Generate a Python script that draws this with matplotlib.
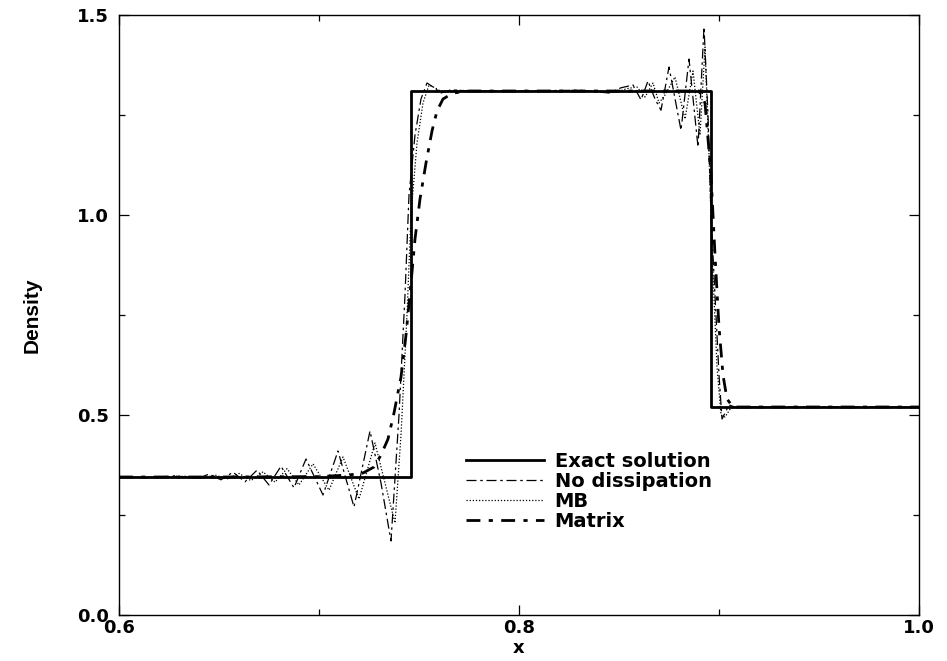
import matplotlib
matplotlib.use('Agg')
import matplotlib.pyplot as plt
from matplotlib.ticker import MultipleLocator

# exact solution (piecewise constant)
exact_x = [0.600, 0.746, 0.746, 0.896, 0.896, 1.000]
exact_y = [0.345, 0.345, 1.310, 1.310, 0.520, 0.520]

# no dissipation
nodis_x = [0.600, 0.615, 0.628, 0.639, 0.645, 0.651, 0.657, 0.663, 0.669, 0.675,
           0.681, 0.6875, 0.6935, 0.702, 0.7095, 0.7175, 0.7255, 0.731, 0.736,
           0.740, 0.743, 0.745, 0.748, 0.751, 0.754, 0.757, 0.761, 0.766, 0.775,
           0.800, 0.830, 0.845, 0.851, 0.857, 0.861, 0.8645, 0.868, 0.871, 0.875,
           0.881, 0.885, 0.8895, 0.8925, 0.8945, 0.896, 0.898, 0.900, 0.9015,
           0.903, 0.905, 0.908, 1.000]
nodis_y = [0.345, 0.343, 0.348, 0.341, 0.352, 0.338, 0.357, 0.333, 0.362, 0.325,
           0.372, 0.318, 0.390, 0.300, 0.410, 0.270, 0.460, 0.330, 0.185,
           0.500, 0.800, 1.050, 1.200, 1.290, 1.330, 1.320, 1.305, 1.313, 1.310,
           1.310, 1.312, 1.305, 1.318, 1.325, 1.288, 1.335, 1.290, 1.262, 1.370,
           1.212, 1.390, 1.170, 1.470, 1.250, 1.000, 0.800, 0.600, 0.490,
           0.505, 0.525, 0.520, 0.520]

# MB dissipation
mb_x = [0.600, 0.620, 0.633, 0.642, 0.648, 0.654, 0.660, 0.666, 0.672, 0.678,
        0.684, 0.690, 0.697, 0.705, 0.712, 0.720, 0.728, 0.733, 0.738,
        0.741, 0.744, 0.746, 0.749, 0.752, 0.755, 0.758, 0.762, 0.768, 0.780,
        0.800, 0.835, 0.848, 0.854, 0.859, 0.863, 0.867, 0.870, 0.873, 0.878,
        0.883, 0.887, 0.8905, 0.893, 0.895, 0.897, 0.899, 0.901, 0.903, 0.906,
        0.910, 1.000]
mb_y = [0.345, 0.344, 0.347, 0.342, 0.350, 0.340, 0.354, 0.336, 0.358, 0.332,
        0.366, 0.325, 0.378, 0.312, 0.395, 0.290, 0.430, 0.330, 0.230,
        0.450, 0.750, 1.000, 1.180, 1.280, 1.325, 1.318, 1.306, 1.312, 1.310,
        1.310, 1.311, 1.306, 1.316, 1.320, 1.295, 1.330, 1.280, 1.300, 1.345,
        1.240, 1.360, 1.200, 1.420, 1.150, 0.850, 0.620, 0.500, 0.495, 0.518,
        0.520, 0.520]

# matrix dissipation
mat_x = [0.600, 0.650, 0.700, 0.715, 0.722, 0.7275, 0.731, 0.7345, 0.7375, 0.741,
         0.7435, 0.746, 0.748, 0.7505, 0.7535, 0.7565, 0.759, 0.762, 0.767, 0.775,
         0.800, 0.850, 0.890, 0.893, 0.896, 0.898, 0.900, 0.902, 0.904, 0.907,
         1.000]
mat_y = [0.345, 0.345, 0.346, 0.350, 0.355, 0.370, 0.400, 0.440, 0.505, 0.595,
         0.700, 0.830, 0.940, 1.040, 1.130, 1.210, 1.260, 1.290, 1.305, 1.310,
         1.310, 1.310, 1.310, 1.280, 1.100, 0.900, 0.720, 0.600, 0.540, 0.520,
         0.520]

plt.rcParams['font.family'] = ['DejaVu Sans']

fig = plt.figure(figsize=(9.47, 6.61), dpi=100)
ax = fig.add_axes([119 / 947, 46 / 661, 800 / 947, 600 / 661])

ax.plot(exact_x, exact_y, color='black', lw=2.0, label='Exact solution')
ax.plot(nodis_x, nodis_y, color='black', lw=0.9, ls=(0, (8, 3, 2, 3)),
        label='No dissipation')
ax.plot(mb_x, mb_y, color='black', lw=0.9, ls=(0, (1, 1.5)), label='MB')
ax.plot(mat_x, mat_y, color='black', lw=2.0, ls=(0, (5, 3, 1.5, 3)),
        label='Matrix')

ax.set_xlim(0.6, 1.0)
ax.set_ylim(0.0, 1.5)
ax.xaxis.set_major_locator(MultipleLocator(0.2))
ax.xaxis.set_minor_locator(MultipleLocator(0.1))
ax.yaxis.set_major_locator(MultipleLocator(0.5))
ax.yaxis.set_minor_locator(MultipleLocator(0.25))
ax.xaxis.set_major_formatter(plt.FormatStrFormatter('%.1f'))
ax.yaxis.set_major_formatter(plt.FormatStrFormatter('%.1f'))

ax.tick_params(which='both', direction='in', top=True, right=True, width=0.9)
ax.tick_params(which='major', length=7)
ax.tick_params(which='minor', length=4.5)
ax.tick_params(axis='y', labelsize=13, pad=7)
ax.tick_params(axis='x', labelsize=13, pad=3)
for lab in ax.get_xticklabels() + ax.get_yticklabels():
    lab.set_fontweight('bold')
for sp in ax.spines.values():
    sp.set_linewidth(1.0)

ax.set_xlabel('x', fontsize=13, fontweight='bold', labelpad=1)
ax.set_ylabel('Density', fontsize=15, fontweight='bold', labelpad=26,
              family=['Liberation Sans Narrow', 'Liberation Sans'])

ax.legend(loc='upper left', bbox_to_anchor=(0.434, 0.272), frameon=False,
          prop={'size': 14, 'weight': 'bold'}, handlelength=4.0,
          handletextpad=0.55, labelspacing=0.05, borderpad=0, borderaxespad=0)

fig.savefig('out.png', dpi=100)
